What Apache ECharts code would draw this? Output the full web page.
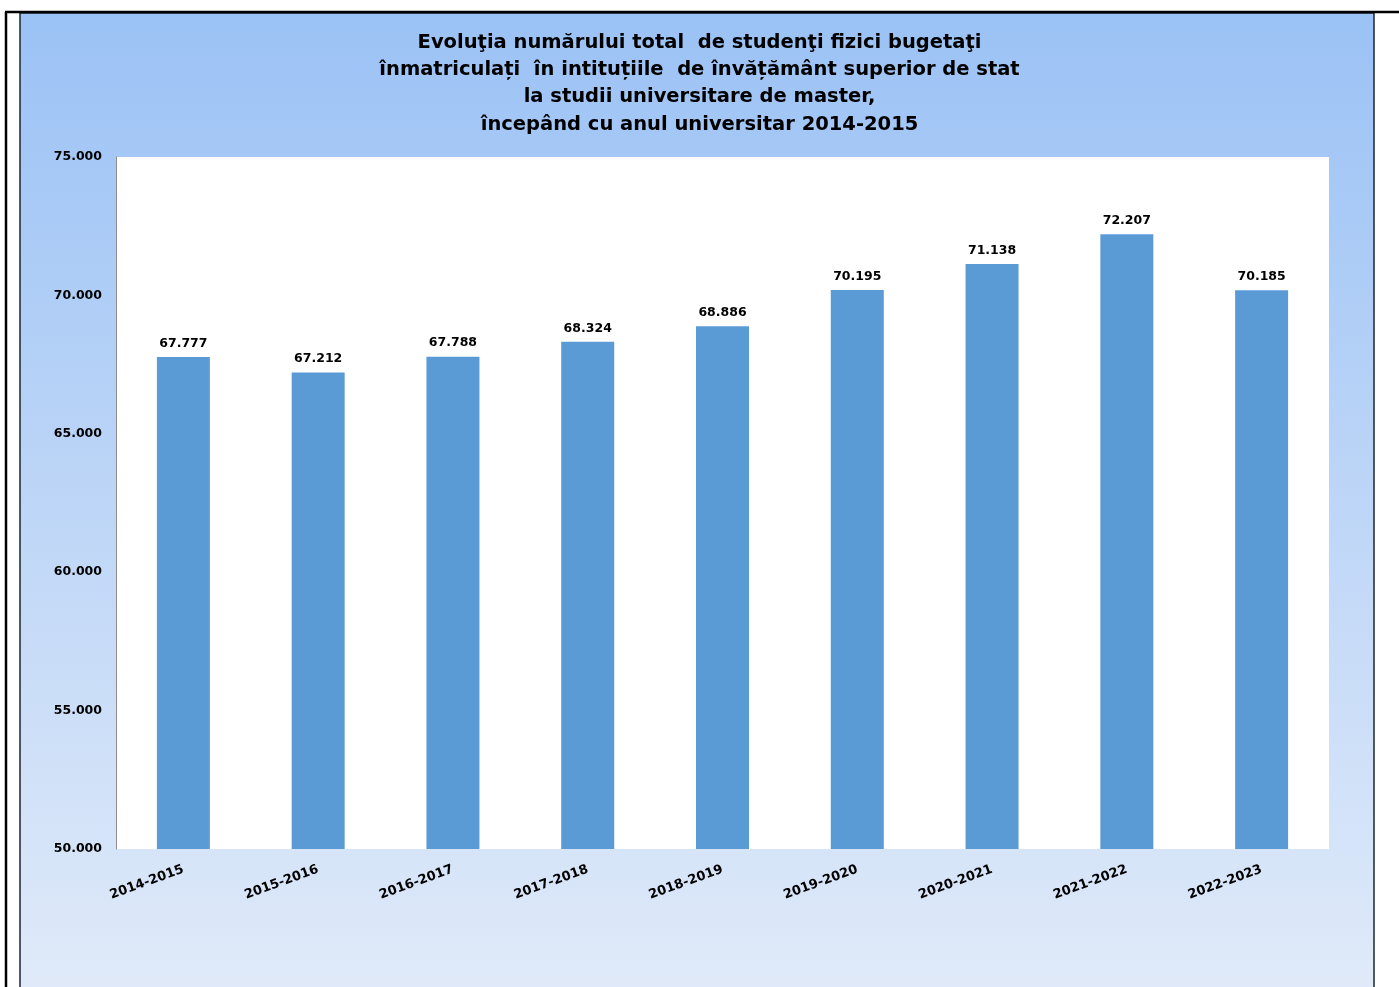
<!DOCTYPE html>
<html>
<head>
<meta charset="utf-8">
<script src="https://cdn.jsdelivr.net/npm/echarts@6/dist/echarts.min.js"></script>
<style>
html,body{margin:0;padding:0;background:#fff;}
#chart{width:1399px;height:987px;}
</style>
</head>
<body>
<div id="chart"></div>
<script>
const categories = ['2014-2015','2015-2016','2016-2017','2017-2018','2018-2019','2019-2020','2020-2021','2021-2022','2022-2023'];
const students = [67777, 67212, 67788, 68324, 68886, 70195, 71138, 72207, 70185];
const titleLines = [
  'Evoluţia numărului total  de studenţi fizici bugetaţi',
  'înmatriculați  în intituțiile  de învățământ superior de stat',
  'la studii universitare de master,',
  'începând cu anul universitar 2014-2015'
];
const yMin = 50000, yMax = 75000, yStep = 5000;

function fmt(v){
  const s = String(Math.round(v));
  return s.replace(/\B(?=(\d{3})+(?!\d))/g, '.');
}
function fmtAxis(v){
  return (v/1000).toFixed(3);
}

const chart = echarts.init(document.getElementById('chart'), null, {renderer:'canvas'});
const FONT = '"DejaVu Sans", sans-serif';
chart.setOption({
  backgroundColor: '#ffffff',
  animation: false,
  graphic: [
    {type:'rect', z:-10, shape:{x:20, y:13, width:1354, height:980},
      style:{fill: new echarts.graphic.LinearGradient(0,0,0,1,[
        {offset:0, color:'#9bc2f5'},
        {offset:1, color:'#e0eaf9'}
      ]), stroke:'#1b2633', lineWidth:1.5}},
    {type:'line', z:10, shape:{x1:6, y1:12, x2:6, y2:990}, style:{stroke:'#000', lineWidth:2.5}},
    {type:'line', z:10, shape:{x1:5, y1:12, x2:1399, y2:12}, style:{stroke:'#000', lineWidth:2.5}}
  ],
  title: {
    text: titleLines.join('\n'),
    left: 'center',
    top: 29,
    padding: 0,
    textStyle: {fontFamily: FONT, fontSize: 19.5, fontWeight: 'bold', color: '#000', lineHeight: 27.3}
  },
  grid: {
    left: 116, right: 70, top: 157, bottom: 138,
    show: true, backgroundColor: '#ffffff', borderWidth: 0,
    containLabel: false
  },
  xAxis: {
    type: 'category',
    data: categories,
    axisLine: {show: false},
    axisTick: {show: false},
    axisLabel: {
      rotate: 20, margin: 20, interval: 0,
      fontFamily: FONT, fontSize: 13, fontWeight: 'bold', color: '#000'
    }
  },
  yAxis: {
    type: 'value',
    min: yMin, max: yMax, interval: yStep,
    splitLine: {show: false},
    axisTick: {show: false},
    axisLine: {show: true, lineStyle: {color: '#8c8c8c', width: 1}},
    axisLabel: {
      margin: 14, formatter: fmtAxis,
      fontFamily: FONT, fontSize: 12.5, fontWeight: 'bold', color: '#000'
    }
  },
  series: [{
    type: 'bar',
    data: students,
    barWidth: 53,
    itemStyle: {color: '#5b9bd5'},
    label: {
      show: true, position: 'top', distance: 7,
      formatter: p => fmt(p.value),
      fontFamily: FONT, fontSize: 12.5, fontWeight: 'bold', color: '#000'
    }
  }]
});
</script>
</body>
</html>
